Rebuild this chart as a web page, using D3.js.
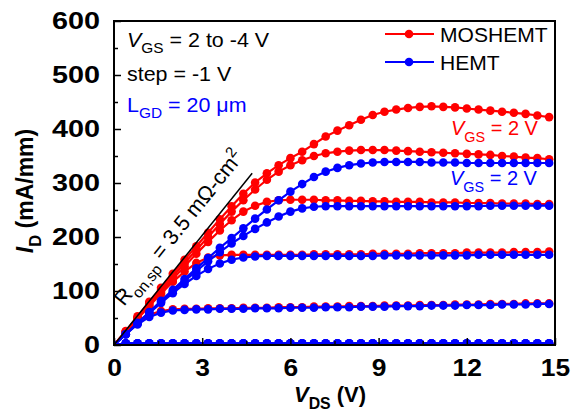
<!DOCTYPE html>
<html><head><meta charset="utf-8">
<script src="https://cdn.jsdelivr.net/npm/d3@7"></script>
<style>
body{margin:0;background:#fff}
svg{display:block}
text{font-family:"Liberation Sans",Arial,Helvetica,sans-serif}
</style>
</head><body>
<svg id="chart" width="576" height="415"></svg>
<script>
// ---------- data ----------
const vds = [0,0.4,0.8,1.2,1.6,2,2.4,2.8,3.2,3.6,4,4.4,4.8,5.2,5.6,6,6.4,6.8,7.2,7.6,8,8.4,8.8,9.2,9.6,10,10.4,10.8,11.2,11.6,12,12.4,12.8,13.2,13.6,14,14.4,14.8];

// MOSHEMT, VGS = 2 ... -4 V
const mos_p2 = [0,26,53,80,106,132,158,183,208,233,257,280,301,318,333,346,358,372,386,397,407,417,426,432,436,439,441,442,441,440,438,436,434,432,430,428,425,422];
const mos_p1 = [0,25,51,77,102,127,152,176,200,224,247,268,288,306,321,333,342,350,355,358,360,361,361,361,360,359,358,357,356,355,354,353,352,350,349,347,346,344];
const mos_0  = [0,24,49,74,98,122,146,169,191,212,231,247,258,265,268,269,269,269,268,268,267,267,266,266,265,265,265,264,264,264,263,263,263,262,262,262,261,261];
const mos_m1 = [0,24,48,72,95,117,136,152,162,166,167,167,167,167,167,167,167,168,168,168,168,168,169,169,169,169,170,170,170,170,171,171,171,171,172,172,172,173];
const mos_m2 = [0,22,42,56,63,66,67,67,68,68,68,69,69,69,70,70,70,71,71,71,72,72,72,73,73,73,74,74,74,75,75,75,76,76,76,77,77,77];
const mos_m3 = [0,2,2,2,2,2,2,2,2,2,2,2,2,2,2,2,2,2,2,2,2,2,2,2,2,2,2,2,2,2,2,2,2,2,2,2,2,2];
const mos_m4 = [0,2,2,2,2,2,2,2,2,2,2,2,2,2,2,2,2,2,2,2,2,2,2,2,2,2,2,2,2,2,2,2,2,2,2,2,2,2];

// HEMT, VGS = 2 ... -4 V
const hem_p2 = [0,20,41,61,82,102,122,142,161,180,198,216,234,251,268,284,298,311,321,328,333,336,338,339,339,339,339,338,338,338,337,337,337,337,337,337,337,337];
const hem_p1 = [0,20,40,60,80,99,118,137,155,172,188,202,215,227,238,247,253,256,257,257,257,257,257,257,257,257,257,257,257,257,257,257,258,258,258,258,258,258];
const hem_0  = [0,20,40,59,78,96,113,128,141,151,158,162,164,165,165,165,165,165,165,165,165,165,165,166,166,166,166,166,166,166,166,167,167,167,167,167,167,167];
const hem_m1 = [0,20,38,52,60,64,65,66,66,67,67,67,68,68,68,69,69,69,70,70,70,71,71,71,72,72,72,73,73,73,74,74,74,75,75,75,76,76];
const hem_m2 = [0,3,3,3,3,3,3,3,3,3,3,3,3,3,3,3,3,3,3,3,3,3,3,3,3,3,3,3,3,3,3,3,3,3,3,3,3,3];
const hem_m3 = [0,3,3,3,3,3,3,3,3,3,3,3,3,3,3,3,3,3,3,3,3,3,3,3,3,3,3,3,3,3,3,3,3,3,3,3,3,3];
const hem_m4 = [0,3,3,3,3,3,3,3,3,3,3,3,3,3,3,3,3,3,3,3,3,3,3,3,3,3,3,3,3,3,3,3,3,3,3,3,3,3];

// on-resistance guide line (V, mA/mm)
const ronV = [0, 4.7];
const ronI = [0, 318];

// axes
const xTicks = [0,3,6,9,12,15];
const xMinor = [1.5,4.5,7.5,10.5,13.5];
const yTicks = [0,100,200,300,400,500,600];
const yMinor = [50,150,250,350,450,550];

const legendLabels = ["MOSHEMT","HEMT"];

// ---------- drawing ----------
const RED = "#ff0000", BLUE = "#0000ff";
const svg = d3.select("#chart");
svg.append("rect").attr("width",576).attr("height",415).attr("fill","#fff");

const x = d3.scaleLinear().domain([0,15]).range([114,555]);
const y = d3.scaleLinear().domain([0,600]).range([345,21]);

const defs = svg.append("defs");
defs.append("clipPath").attr("id","plotclip").append("rect")
  .attr("x",114).attr("y",21).attr("width",441).attr("height",324);

const line = d3.line().x(d=>x(d[0])).y(d=>y(d[1]));

const mosSeries = [mos_p2,mos_p1,mos_0,mos_m1,mos_m2,mos_m3,mos_m4];
const hemSeries = [hem_p2,hem_p1,hem_0,hem_m1,hem_m2,hem_m3,hem_m4];

const plot = svg.append("g").attr("clip-path","url(#plotclip)");

function drawSeries(list, color){
  list.forEach(arr=>{
    const pts = vds.map((v,i)=>[v,arr[i]]);
    plot.append("path").attr("d",line(pts)).attr("fill","none")
      .attr("stroke",color).attr("stroke-width",2.2);
    plot.append("g").selectAll("circle").data(pts).join("circle")
      .attr("cx",d=>x(d[0])).attr("cy",d=>y(d[1])).attr("r",4.3).attr("fill",color);
  });
}
drawSeries(mosSeries, RED);
drawSeries(hemSeries, BLUE);

// Ron guide line
svg.append("line")
  .attr("x1",x(ronV[0])).attr("y1",y(ronI[0]))
  .attr("x2",x(ronV[1])).attr("y2",y(ronI[1]))
  .attr("stroke","#000").attr("stroke-width",1.5);

// axes
const SXY = 1.2, SXX = 1.1;
const gx = svg.append("g").attr("transform","translate(0,345)")
  .call(d3.axisBottom(x).tickValues(xTicks).tickSizeInner(-7).tickSizeOuter(0).tickPadding(14).tickFormat(d3.format("d")));
gx.select(".domain").remove();
gx.selectAll(".tick line").attr("stroke","#000").attr("stroke-width",1.5);
gx.selectAll(".tick text").attr("font-size",24).attr("font-weight","bold").attr("fill","#000")
  .attr("font-family","'Liberation Sans',Arial,sans-serif")
  .attr("transform",`scale(${SXX},1)`);
const gxm = svg.append("g").attr("transform","translate(0,345)")
  .call(d3.axisBottom(x).tickValues(xMinor).tickSizeInner(-4).tickSizeOuter(0).tickFormat(""));
gxm.select(".domain").remove();
gxm.selectAll(".tick line").attr("stroke","#000").attr("stroke-width",1.5);

const gy = svg.append("g").attr("transform","translate(114,0)")
  .call(d3.axisLeft(y).tickValues(yTicks).tickSizeInner(-7).tickSizeOuter(0).tickPadding(14).tickFormat(d3.format("d")));
gy.select(".domain").remove();
gy.selectAll(".tick line").attr("stroke","#000").attr("stroke-width",1.5);
gy.selectAll(".tick text").attr("font-size",24).attr("font-weight","bold").attr("fill","#000")
  .attr("font-family","'Liberation Sans',Arial,sans-serif")
  .attr("x",-14/SXY).attr("transform",`scale(${SXY},1)`);
const gym = svg.append("g").attr("transform","translate(114,0)")
  .call(d3.axisLeft(y).tickValues(yMinor).tickSizeInner(-4).tickSizeOuter(0).tickFormat(""));
gym.select(".domain").remove();
gym.selectAll(".tick line").attr("stroke","#000").attr("stroke-width",1.5);

// frame
svg.append("rect").attr("x",114).attr("y",21).attr("width",441).attr("height",324)
  .attr("fill","none").attr("stroke","#000").attr("stroke-width",2);

// rich text helper
function rich(parent, px, py, parts, o){
  const g = parent.append("g").attr("transform",`translate(${px},${py})${o.rot?` rotate(${o.rot})`:""} scale(${o.sx||1},1)`);
  const t = g.append("text").attr("font-size",o.size).attr("fill",o.color||"#000")
    .attr("font-weight",o.bold?"bold":"normal").attr("text-anchor",o.anchor||"start");
  let shift = 0;
  parts.forEach(p=>{
    const ts = t.append("tspan").text(p.t);
    let target = 0, fs = o.size;
    if(p.sub){ target = o.size*0.33; fs = o.size*0.72; }
    if(p.sup){ target = -o.size*0.4; fs = o.size*0.7; }
    ts.attr("dy", target-shift).attr("font-size",fs);
    if(p.it) ts.attr("font-style","italic");
    shift = target;
  });
  return g;
}

// top-left annotations
rich(svg,127,47,[{t:"V",it:true},{t:"GS",sub:true},{t:" = 2 to -4 V"}],{size:19.5,sx:1.1});
rich(svg,127,81,[{t:"step = -1 V"}],{size:19.5,sx:1.1});
rich(svg,127,112,[{t:"L"},{t:"GD",sub:true},{t:" = 20 \u03bcm"}],{size:19.5,sx:1.1,color:BLUE});

// legend
[[RED,34],[BLUE,62]].forEach((c,i)=>{
  svg.append("line").attr("x1",385).attr("x2",434).attr("y1",c[1]).attr("y2",c[1])
    .attr("stroke",c[0]).attr("stroke-width",2);
  svg.append("circle").attr("cx",409).attr("cy",c[1]).attr("r",4.3).attr("fill",c[0]);
  rich(svg,440,c[1]+8,[{t:legendLabels[i]}],{size:19.5,sx:1.08});
});

// curve labels
rich(svg,451,135,[{t:"V",it:true},{t:"GS",sub:true},{t:" = 2 V"}],{size:20,color:RED});
rich(svg,450,185,[{t:"V",it:true},{t:"GS",sub:true},{t:" = 2 V"}],{size:20,color:BLUE});

// Ron annotation
const ang = -Math.atan2(y(ronI[0])-y(ronI[1]), x(ronV[1])-x(ronV[0]))*180/Math.PI;
rich(svg,124,307,[{t:"R"},{t:"on,sp",sub:true},{t:" = 3.5 m\u03a9-cm"},{t:"2",sup:true}],{size:21.5,rot:ang});

// axis titles
rich(svg,330,402,[{t:"V",it:true},{t:"DS",sub:true},{t:" (V)"}],{size:22,bold:true,anchor:"middle"});
rich(svg,33,191,[{t:"I",it:true},{t:"D",sub:true},{t:" (mA/mm)"}],{size:23,bold:true,anchor:"middle",rot:-90});
</script>
</body></html>
